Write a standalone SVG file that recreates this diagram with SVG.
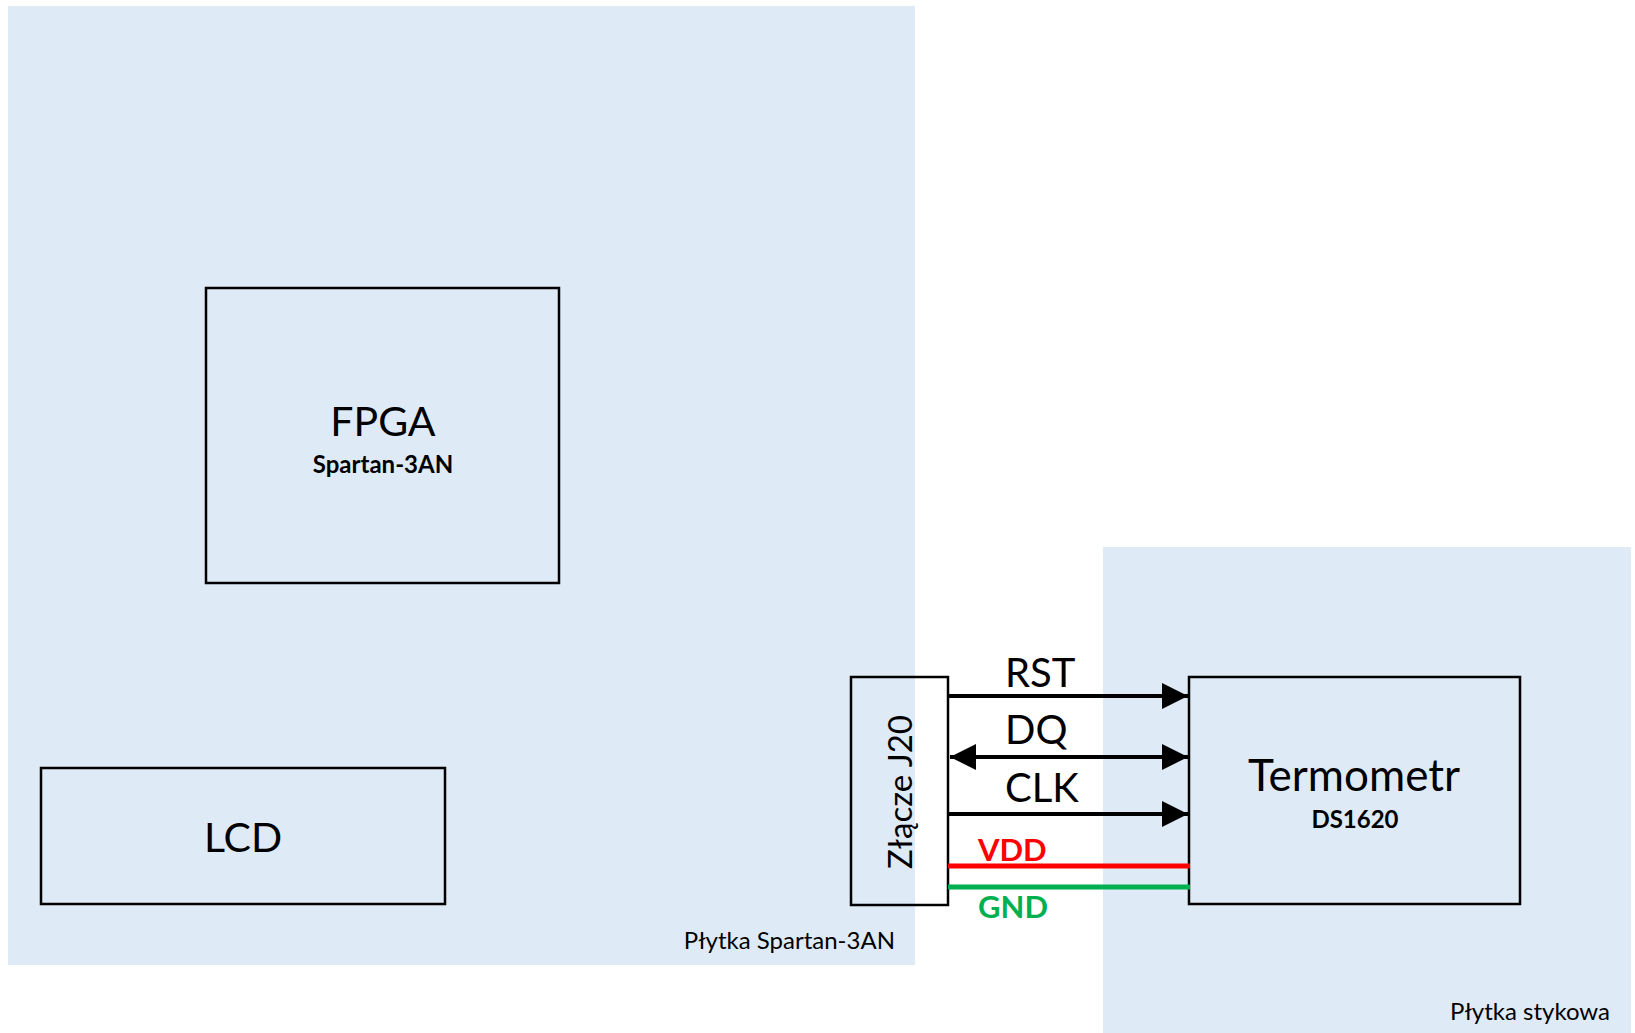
<svg xmlns="http://www.w3.org/2000/svg" width="1635" height="1033" viewBox="0 0 1635 1033">
<style>
.panel{fill:#DEEAF6;stroke:none}
.box{fill:none;stroke:#000;stroke-width:2.5}
.t{font-family:Lato,"Open Sans",sans-serif;fill:#000}
.big{font-size:41px;text-anchor:middle}
.sub{font-size:24px;font-weight:bold;text-anchor:middle}
.lbl{font-size:40px}
.pl{font-size:24px}
.pw{font-size:31px;font-weight:bold}
.sig{stroke:#000;stroke-width:4;fill:none}
</style>
<defs>
<marker id="ah" markerUnits="userSpaceOnUse" markerWidth="26" markerHeight="26" viewBox="0 0 25 25" refX="25" refY="12.5" orient="auto-start-reverse">
<path d="M0,0 L25,12.5 L0,25 Z" fill="#000"/>
</marker>
</defs>
<g id="plytka-spartan">
<rect class="panel" x="8" y="6" width="907" height="959"/>
<text class="t pl" x="895" y="949" text-anchor="end">Płytka Spartan-3AN</text>
</g>
<g id="plytka-stykowa">
<rect class="panel" x="1103" y="547" width="528" height="486"/>
<text class="t pl" x="1610" y="1020" text-anchor="end">Płytka stykowa</text>
</g>
<g id="fpga">
<rect class="box" x="206" y="288" width="353" height="295"/>
<text class="t big" x="383" y="436">FPGA</text>
<text class="t sub" x="383" y="473">Spartan-3AN</text>
</g>
<g id="lcd">
<rect class="box" x="41" y="768" width="404" height="136"/>
<text class="t big" x="243" y="852">LCD</text>
</g>
<g id="zlacze">
<rect class="box" x="851" y="677" width="97" height="228"/>
<text class="t" font-size="33" text-anchor="middle" transform="translate(912,792) rotate(-90)">Złącze J20</text>
</g>
<g id="termometr">
<rect class="box" x="1189" y="677" width="331" height="227"/>
<text class="t big" x="1354" y="791" style="font-size:44px">Termometr</text>
<text class="t sub" x="1355" y="828">DS1620</text>
</g>
<g id="connectors">
<line class="sig" x1="948" y1="696" x2="1188" y2="696" marker-end="url(#ah)"/>
<line class="sig" x1="950" y1="757" x2="1188" y2="757" marker-start="url(#ah)" marker-end="url(#ah)"/>
<line class="sig" x1="948" y1="814" x2="1188" y2="814" marker-end="url(#ah)"/>
<line x1="948" y1="866" x2="1190" y2="866" stroke="#FF0000" stroke-width="5"/>
<line x1="948" y1="887" x2="1190" y2="887" stroke="#00B050" stroke-width="5"/>
<text class="t lbl" x="1005" y="687">RST</text>
<text class="t lbl" x="1005" y="744">DQ</text>
<text class="t lbl" x="1005" y="802">CLK</text>
<text class="t pw" x="978" y="861" style="fill:#FF0000">VDD</text>
<text class="t pw" x="978" y="918" style="fill:#00B050">GND</text>
</g>
</svg>
